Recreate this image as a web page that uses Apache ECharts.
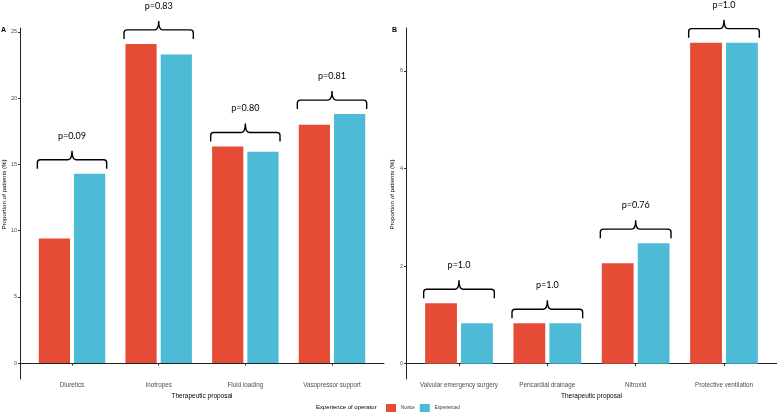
<!DOCTYPE html>
<html>
<head>
<meta charset="utf-8">
<script src="https://cdn.jsdelivr.net/npm/echarts@6/dist/echarts.min.js"></script>
<style>
  html, body { margin: 0; padding: 0; background: #fff; }
  #main { width: 777px; height: 413px; }
</style>
</head>
<body>
<div id="main"></div>
<script>
// panel A
var leftCats = ['Diuretics', 'Inotropes', 'Fluid loading', 'Vasopressor support'];
var leftNovice = [9.4, 24.1, 16.35, 18.0];
var leftExperienced = [14.3, 23.3, 15.95, 18.8];
var leftP = ['p=0.09', 'p=0.83', 'p=0.80', 'p=0.81'];
var leftTicks = [0, 5, 10, 15, 20, 25];

// panel B
var rightCats = ['Valvular emergency surgery', 'Pericardial drainage', 'Nitroxid', 'Protective ventilation'];
var rightNovice = [1.24, 0.83, 2.06, 6.58];
var rightExperienced = [0.83, 0.83, 2.47, 6.58];
var rightP = ['p=1.0', 'p=1.0', 'p=0.76', 'p=1.0'];
var rightTicks = [0, 2, 4, 6];

var catPos = [1, 2, 3, 4];

var RED = '#E64B35';
var BLUE = '#4DBBD5';

function pairs(vals) {
    return vals.map(function (v, i) { return [catPos[i], v]; });
}

function xAx(idx, cats) {
    return {
        type: 'value', gridIndex: idx, min: 0.4, max: 4.6,
        name: 'Therapeutic proposal', nameLocation: 'middle', nameGap: 8,
        nameTextStyle: {fontSize: 6.5, color: '#000', fontFamily: 'Liberation Sans'},
        splitLine: {show: false},
        axisLine: {show: true, lineStyle: {color: '#222', width: 1}},
        axisTick: {show: true, length: 2.5, customValues: catPos, lineStyle: {color: '#333'}},
        axisLabel: {
            customValues: catPos, margin: 3, fontSize: 6.3, color: '#4d4d4d', fontFamily: 'Liberation Sans',
            formatter: function (v) { return cats[Math.round(v) - 1]; }
        }
    };
}

function yAx(idx, min, max, ticks) {
    return {
        type: 'value', gridIndex: idx, min: min, max: max,
        name: 'Proportion of patients (%)', nameLocation: 'middle', nameGap: 11,
        nameTextStyle: {fontSize: 6.2, color: '#000', fontFamily: 'Liberation Sans', padding: [0, 0, 0, 18]},
        splitLine: {show: false},
        axisLine: {show: true, lineStyle: {color: '#222', width: 1}},
        axisTick: {show: true, length: 2, customValues: ticks, lineStyle: {color: '#333'}},
        axisLabel: {customValues: ticks, margin: 3, fontSize: 5.5, color: '#4d4d4d', fontFamily: 'Liberation Sans'}
    };
}

function bracketSeries(idx, nov, exp, labels) {
    return {
        type: 'custom', xAxisIndex: idx, yAxisIndex: idx, clip: false, silent: true,
        data: nov.map(function (v, i) { return [catPos[i], Math.max(v, exp[i])]; }),
        renderItem: function (params, api) {
            var c = api.coord([api.value(0), api.value(1)]);
            var half = api.size([0.4, 0])[0];
            var y = c[1] - 14, xc = c[0], x0 = xc - half, x1 = xc + half;
            var d = 'M' + x0 + ',' + (y + 9) + ' L' + x0 + ',' + (y + 3) +
                ' Q' + x0 + ',' + y + ' ' + (x0 + 3) + ',' + y +
                ' L' + (xc - 4) + ',' + y + ' Q' + xc + ',' + y + ' ' + xc + ',' + (y - 9) +
                ' Q' + xc + ',' + y + ' ' + (xc + 4) + ',' + y +
                ' L' + (x1 - 3) + ',' + y + ' Q' + x1 + ',' + y + ' ' + x1 + ',' + (y + 3) +
                ' L' + x1 + ',' + (y + 9);
            return {
                type: 'group',
                children: [
                    {type: 'path', shape: {pathData: d}, style: {stroke: '#000', lineWidth: 1.4, fill: null}},
                    {type: 'text', style: {text: labels[params.dataIndex], x: xc, y: y - 24,
                        align: 'center', verticalAlign: 'middle', fontSize: 9, fontFamily: 'Lato', fill: '#000'}}
                ]
            };
        }
    };
}

function barSeries(name, idx, vals, color) {
    return {
        name: name, type: 'bar', xAxisIndex: idx, yAxisIndex: idx,
        data: pairs(vals), barWidth: '36%', barGap: '13%',
        itemStyle: {color: color}
    };
}

var chart = echarts.init(document.getElementById('main'));
chart.setOption({
    animation: false,
    title: [
        {text: 'Experience of operator', left: 316, top: 404, padding: 0,
            textStyle: {fontSize: 6, fontWeight: 'normal', color: '#000', fontFamily: 'Liberation Sans'}},
        {text: 'A', left: 1, top: 27, padding: 0,
            textStyle: {fontSize: 7, fontWeight: 'bold', color: '#000', fontFamily: 'Liberation Sans'}},
        {text: 'B', left: 392, top: 27, padding: 0,
            textStyle: {fontSize: 7, fontWeight: 'bold', color: '#000', fontFamily: 'Liberation Sans'}}
    ],
    legend: {
        data: ['Novice', 'Experienced'], left: 386, top: 404, padding: 0,
        itemWidth: 10, itemHeight: 8, itemGap: 5, icon: 'rect',
        textStyle: {fontSize: 4.5, color: '#333', fontFamily: 'Liberation Sans'}
    },
    grid: [
        {left: 18, right: 393, top: 28, bottom: 34},
        {left: 406, right: 0, top: 28, bottom: 34}
    ],
    xAxis: [xAx(0, leftCats), xAx(1, rightCats)],
    yAxis: [yAx(0, -1.2, 25.3, leftTicks), yAx(1, -0.314, 6.88, rightTicks)],
    series: [
        barSeries('Novice', 0, leftNovice, RED),
        barSeries('Experienced', 0, leftExperienced, BLUE),
        barSeries('Novice', 1, rightNovice, RED),
        barSeries('Experienced', 1, rightExperienced, BLUE),
        bracketSeries(0, leftNovice, leftExperienced, leftP),
        bracketSeries(1, rightNovice, rightExperienced, rightP)
    ]
});
</script>
</body>
</html>
